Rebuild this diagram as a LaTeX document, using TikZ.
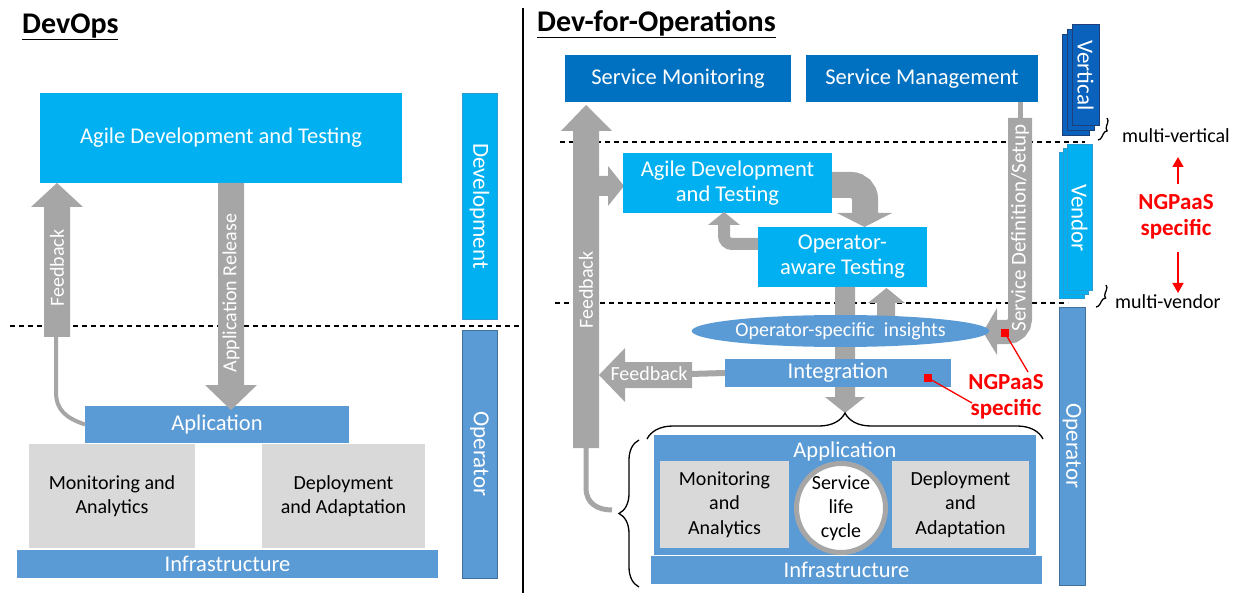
\documentclass[tikz,border=0pt]{standalone}
\usepackage{fontspec}
\setmainfont{Carlito}
\usetikzlibrary{decorations.pathreplacing,arrows.meta,shapes.geometric}
\definecolor{cyanC}{HTML}{00B0F0}
\definecolor{blueC}{HTML}{5B9BD5}
\definecolor{darkC}{HTML}{0070C0}
\definecolor{grayA}{HTML}{A6A6A6}
\definecolor{lightG}{HTML}{D9D9D9}
\definecolor{bordB}{HTML}{41719C}
\definecolor{bordC}{HTML}{2E9BD0}
\definecolor{vertC}{HTML}{0A62BC}
\definecolor{navyC}{HTML}{1F3F7A}
\definecolor{redC}{HTML}{FF0000}
\newcommand\fs[2]{\fontsize{#1}{#2}\selectfont}
\newcommand\bx[7]{\node[#6, minimum width={(#4)-(#2)}, minimum height={(#5)-(#3)}] (#1) at ({((#2)+(#4))/2},{((#3)+(#5))/2}) {#7};}
\begin{document}
\begin{tikzpicture}[x=1pt,y=-1pt,
  box/.style={rectangle, inner sep=0pt, outer sep=0pt, text=white, align=center, font=\fs{22.5}{25}},
  cbox/.style={box, fill=cyanC},
  bbox/.style={box, fill=blueC},
  dbox/.style={box, fill=darkC},
  gbox/.style={box, fill=lightG, text=black, font=\fs{20}{24.5}},
  arr/.style={fill=grayA},
  lab/.style={text=white, font=\fs{20}{22}, inner sep=0pt},
  barlab/.style={text=white, font=\fs{23}{25}, inner sep=0pt, rotate=-90},
  dline/.style={line width=1.2pt, dash pattern=on 5pt off 4pt},
  redlab/.style={text=redC, font=\fs{23}{26}\bfseries, align=center, inner sep=0pt},
  redsq/.style={rectangle, fill=redC, minimum size=8pt, inner sep=0pt},
  blk/.style={text=black, font=\fs{20}{22}, inner sep=0pt},
  brc/.style={decorate, line width=1.3pt},
  ttl/.style={font=\fs{30}{32}\bfseries, anchor=west, inner sep=0pt}
]
\useasboundingbox (0,0) rectangle (1236,593);

% ---------------- titles and divider
\node[ttl] (t1) at (22,27) {\underline{DevOps}};
\node[ttl] (t2) at (537,24) {\underline{Dev-for-Operations}};
\draw[line width=1.3pt] (523,8) -- (523,593);

% ---------------- LEFT PANEL
\draw[dline] (10,326) -- (523,326);
\bx{agileL}{40}{93}{402}{183}{cbox}{Agile Development and Testing}
\bx{devbar}{462}{93}{497}{319}{box, fill=cyanC, draw=bordC}{}
\node[barlab] at (devbar) {Development};
\bx{opbarL}{462}{330}{497}{578}{box, fill=blueC, draw=bordB}{}
\node[barlab] at (opbarL) {Operator};

\bx{aplic}{85}{406}{349}{443}{bbox}{Aplication}
\bx{monL}{29}{444}{195}{548}{gbox}{Monitoring and\\Analytics}
\bx{depL}{262}{444}{425}{548}{gbox}{Deployment\\and Adaptation}
\bx{infL}{17}{550}{438}{578}{bbox}{Infrastructure}

% feedback arrow (left)
\draw[grayA, line width=4pt] (56,336) -- (56,392) .. controls (56,410) and (66,418) .. (aplic.west);
\fill[arr] (44,337) -- (44,207) -- (31,207) -- (57,183) -- (83,207) -- (70,207) -- (70,337) -- cycle;
\node[lab, rotate=90] at (57,268) {Feedback};
% application release arrow
\fill[arr] (218,183) -- (218,385) -- (205,385) -- (231,410) -- (257,385) -- (244,385) -- (244,183) -- cycle;
\node[lab, rotate=90] at (231,293) {Application Release};

% ---------------- RIGHT PANEL
\draw[dline] (560,142) -- (1085,142);
\draw[dline] (555,303) -- (1068,303);

\bx{smon}{565}{55}{791}{102}{dbox}{Service Monitoring}
\bx{smgmt}{806}{55}{1038}{102}{dbox}{Service Management}

% vertical stack
\bx{v3}{1062}{35}{1089}{136}{box, fill=vertC, draw=navyC, line width=1pt}{}
\bx{v2}{1067}{30}{1094}{131}{box, fill=vertC, draw=navyC, line width=1pt}{}
\bx{v1}{1072}{25}{1099}{126}{box, fill=vertC, draw=navyC, line width=1pt}{}
\node[barlab] at (v1) {Vertical};
% vendor stack
\bx{w3}{1059}{153}{1084}{299}{box, fill=cyanC, draw=bordC, line width=1pt}{}
\bx{w2}{1063}{149}{1088}{295}{box, fill=cyanC, draw=bordC, line width=1pt}{}
\bx{w1}{1067}{145}{1092}{291}{box, fill=cyanC, draw=bordC, line width=1pt}{}
\node[barlab] at (w1) {Vendor};
% operator bar right
\bx{opbarR}{1059}{307}{1085}{585}{box, fill=blueC, draw=bordB}{}
\node[barlab] at (opbarR) {Operator};

% small braces and labels
\draw[brc, decoration={brace, amplitude=5pt}] (1107,118) -- (1098,140);
\node[blk, anchor=west] (mvert) at (1122,136) {multi-vertical};
\draw[brc, decoration={brace, amplitude=5pt}] (1106,285) -- (1096,307);
\node[blk, anchor=west] (mvend) at (1115,302) {multi-vendor};
\node[redlab] (ngR) at (1176,217) {NGPaaS\\specific};
\draw[redC, line width=1.5pt, -{Triangle[width=11pt,length=10pt]}] (1178,184) -- (1178,157);
\draw[redC, line width=1.5pt, -{Triangle[width=11pt,length=10pt]}] (1178,252) -- (1178,293);

% big feedback arrow
\draw[grayA, line width=5pt] (586,447) -- (586,488) .. controls (586,503) and (597,510) .. (612,510);
\fill[arr] (573,448) -- (573,131) -- (561,131) -- (586,105) -- (612,131) -- (599,131) -- (599,448) -- cycle;
\node[lab, rotate=90] at (586,290) {Feedback};
\fill[arr] (598,176) -- (608,176) -- (608,166) -- (624,186) -- (608,206) -- (608,196) -- (598,196) -- cycle;

% dev boxes
\bx{agileR}{623}{153}{832}{213}{cbox}{Agile Development\\and Testing}
\bx{opaware}{758}{227}{927}{287}{cbox}{Operator-\\aware Testing}

% curved arrows between dev boxes
\draw[grayA, line width=26pt, rounded corners=14pt] (832,185) -- (865,185) -- (865,214);
\fill[arr] (837,213) -- (864.5,227) -- (892,213) -- cycle;
\draw[grayA, line width=12pt, rounded corners=8pt] (opaware.west |- 0,244) -- (724,244) -- (724,224);
\fill[arr] (708,225) -- (724,212) -- (740,225) -- cycle;

% service management arrow
\draw[grayA, line width=5pt] (1020,102) -- (1020,119);
\draw[grayA, line width=24pt, rounded corners=13pt] (1020,118) -- (1020,332) -- (996,332);
\fill[arr] (997,308) -- (983,332) -- (997,355) -- cycle;
\node[lab, rotate=90, font=\fs{21}{22}] at (1020,228) {Service Definition/Setup};

% central down / up arrows
\fill[arr] (835,287) -- (835,397) -- (825,397) -- (845,413) -- (865,397) -- (855,397) -- (855,287) -- cycle;
\fill[arr] (877,320) -- (877,303) -- (868,303) -- (886.5,288) -- (905,303) -- (895,303) -- (895,320) -- cycle;

% ellipse and integration
\node[ellipse, fill=blueC, minimum width=285pt, minimum height=32pt, inner sep=0pt, text=white, font=\fs{20}{22}] (insight) at (840.5,331) {Operator-specific\ \ insights};
\bx{intg}{725}{359}{951}{387}{bbox}{Integration}

% feedback left arrow from integration
\draw[grayA, line width=6pt] (690,374) -- (intg.west);
\fill[arr] (692,362) -- (625,362) -- (625,348) -- (599,375) -- (625,402) -- (625,388) -- (692,388) -- cycle;
\node[lab] at (649,374) {Feedback};

% red annotations
\node[redsq] (rq1) at (1005,333) {};
\node[redsq] (rq2) at (928,378) {};
\node[redlab] (ngM) at (1006,397) {NGPaaS\\specific};
\draw[redC, line width=1.3pt] (rq1.center) -- (1028,372);
\draw[redC, line width=1.3pt] (rq2.center) -- (972,403);

% braces
\draw[brc, decoration={brace, amplitude=26pt}] (647,439) -- (1043,439);
\draw[brc, decoration={brace, amplitude=20pt}] (639,587) -- (639,440);

% application block
\bx{app}{654}{435}{1036}{555}{bbox}{}
\node[lab, font=\fs{22.5}{25}] at (845,452) {Application};
\bx{monR}{660}{461}{789}{548}{gbox}{Monitoring\\and\\Analytics}
\bx{depR}{892}{461}{1029}{548}{gbox}{Deployment\\and\\Adaptation}
\node[circle, fill=white, draw=grayA, line width=5pt, minimum size=89pt, inner sep=0pt, align=center, font=\fs{20}{24}] (life) at (841,508) {Service\\life\\cycle};
\bx{infR}{651}{556}{1042}{584}{bbox}{Infrastructure}
\end{tikzpicture}
\end{document}
